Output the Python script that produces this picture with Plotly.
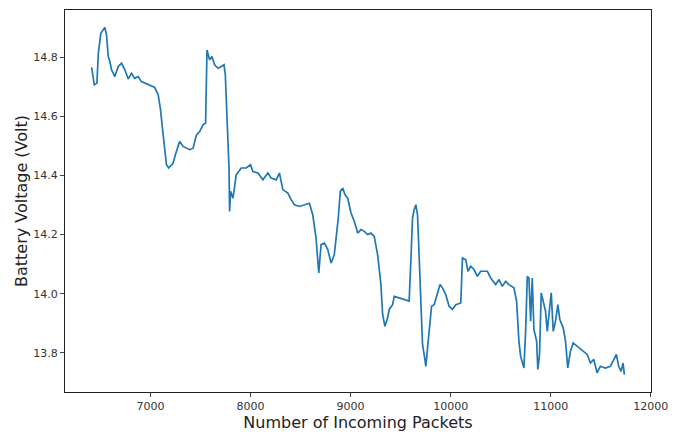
import plotly.graph_objects as go

# Packet index vs. measured battery voltage
packets = [
    6412, 6439, 6465, 6479, 6504, 6528, 6544, 6561, 6578, 6594,
    6611, 6644, 6678, 6711, 6744, 6778, 6811, 6843, 6877, 6910,
    6943, 6993, 7043, 7077, 7100, 7127, 7160, 7182, 7226, 7249,
    7292, 7326, 7359, 7392, 7426, 7459, 7492, 7525, 7551, 7565,
    7591, 7615, 7641, 7675, 7708, 7735, 7748, 7768, 7785, 7791,
    7801, 7825, 7857, 7907, 7957, 8000, 8024, 8074, 8124, 8173,
    8206, 8256, 8289, 8323, 8373, 8406, 8439, 8489, 8538, 8588,
    8622, 8655, 8682, 8705, 8738, 8772, 8805, 8837, 8877, 8897,
    8921, 8944, 8971, 9004, 9037, 9071, 9104, 9137, 9170, 9203,
    9236, 9270, 9303, 9320, 9343, 9370, 9386, 9420, 9436, 9486,
    9535, 9585, 9602, 9619, 9635, 9652, 9669, 9685, 9702, 9719,
    9735, 9752, 9769, 9785, 9809, 9835, 9861, 9894, 9918, 9951,
    9984, 10018, 10051, 10101, 10118, 10151, 10173, 10200, 10233, 10267,
    10300, 10367, 10400, 10450, 10483, 10516, 10549, 10582, 10632, 10659,
    10682, 10699, 10732, 10749, 10766, 10782, 10799, 10815, 10832, 10859,
    10871, 10888, 10905, 10931, 10948, 10965, 10981, 11005, 11025, 11048,
    11071, 11091, 11125, 11148, 11170, 11197, 11224, 11264, 11314, 11364,
    11397, 11430, 11463, 11496, 11546, 11596, 11623, 11656, 11679, 11703,
    11723, 11736,
]

voltage = [
    14.765, 14.706, 14.712, 14.813, 14.880, 14.892, 14.900, 14.875, 14.802, 14.785,
    14.757, 14.734, 14.768, 14.779, 14.757, 14.726, 14.745, 14.728, 14.734, 14.717,
    14.712, 14.706, 14.697, 14.673, 14.623, 14.537, 14.436, 14.425, 14.441, 14.470,
    14.515, 14.498, 14.492, 14.487, 14.492, 14.537, 14.548, 14.571, 14.577, 14.824,
    14.791, 14.802, 14.774, 14.762, 14.768, 14.774, 14.740, 14.593, 14.425, 14.278,
    14.346, 14.323, 14.402, 14.425, 14.425, 14.436, 14.413, 14.408, 14.385, 14.408,
    14.391, 14.385, 14.408, 14.352, 14.340, 14.318, 14.301, 14.295, 14.301, 14.306,
    14.267, 14.188, 14.070, 14.166, 14.171, 14.149, 14.104, 14.132, 14.256, 14.346,
    14.357, 14.335, 14.323, 14.273, 14.245, 14.205, 14.217, 14.211, 14.200, 14.205,
    14.194, 14.132, 14.031, 13.930, 13.890, 13.918, 13.947, 13.963, 13.991, 13.986,
    13.980, 13.975, 14.110, 14.256, 14.284, 14.301, 14.267, 14.115, 13.952, 13.828,
    13.795, 13.755, 13.817, 13.884, 13.958, 13.963, 13.997, 14.031, 14.020, 13.997,
    13.958, 13.947, 13.963, 13.969, 14.121, 14.115, 14.076, 14.093, 14.082, 14.059,
    14.076, 14.076, 14.053, 14.031, 14.048, 14.025, 14.042, 14.031, 14.020, 13.975,
    13.840, 13.789, 13.749, 13.873, 14.059, 14.053, 13.907, 14.053, 13.879, 13.840,
    13.744, 13.795, 14.003, 13.963, 13.941, 13.873, 13.918, 14.003, 13.873, 13.907,
    13.963, 13.913, 13.884, 13.840, 13.749, 13.806, 13.834, 13.823, 13.812, 13.795,
    13.766, 13.778, 13.733, 13.755, 13.749, 13.755, 13.772, 13.795, 13.755, 13.738,
    13.766, 13.727,
]

x_ticks = [7000, 8000, 9000, 10000, 11000, 12000]
y_ticks = [13.8, 14.0, 14.2, 14.4, 14.6, 14.8]

fig = go.Figure(
    go.Scatter(
        x=packets,
        y=voltage,
        mode="lines",
        line=dict(color="#1f77b4", width=1.7),
        showlegend=False,
    )
)

axis_common = dict(
    showgrid=False,
    zeroline=False,
    showline=True,
    linecolor="#222",
    linewidth=1,
    mirror=True,
    ticks="outside",
    ticklen=4,
    tickcolor="#444",
    tickfont=dict(family="DejaVu Sans", size=11, color="#333"),
    automargin=False,
)

fig.update_layout(
    width=677,
    height=432,
    margin=dict(l=65, r=26, t=10, b=40),
    paper_bgcolor="white",
    plot_bgcolor="white",
    xaxis=dict(
        range=[6146, 12002],
        tickvals=x_ticks,
        ticktext=[str(v) for v in x_ticks],
        title=dict(
            text="Number of Incoming Packets",
            font=dict(family="DejaVu Sans", size=16, color="#222"),
            standoff=9,
        ),
        **axis_common,
    ),
    yaxis=dict(
        range=[13.668, 14.959],
        tickvals=y_ticks,
        ticktext=[f"{v:.1f}" for v in y_ticks],
        title=dict(
            text="Battery Voltage (Volt)",
            font=dict(family="DejaVu Sans", size=16, color="#222"),
            standoff=1,
        ),
        **axis_common,
    ),
)

fig.write_html("out.html")
